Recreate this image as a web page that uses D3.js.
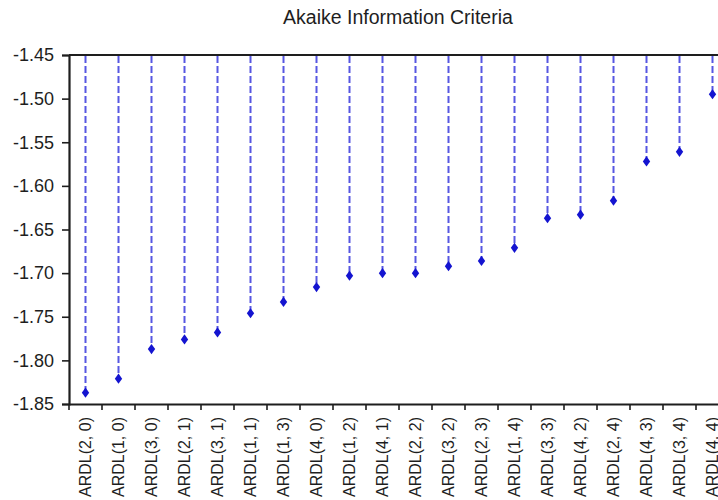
<!DOCTYPE html>
<html><head><meta charset="utf-8">
<script src="https://cdn.jsdelivr.net/npm/d3@7"></script>
<style>body{margin:0;background:#fff;} svg{display:block;font-family:"Liberation Sans",Arial,sans-serif;}</style>
</head><body>
<svg id="c" width="718" height="500"></svg>
<script>
const categories = ["ARDL(2, 0)","ARDL(1, 0)","ARDL(3, 0)","ARDL(2, 1)","ARDL(3, 1)","ARDL(1, 1)","ARDL(1, 3)","ARDL(4, 0)","ARDL(1, 2)","ARDL(4, 1)","ARDL(2, 2)","ARDL(3, 2)","ARDL(2, 3)","ARDL(1, 4)","ARDL(3, 3)","ARDL(4, 2)","ARDL(2, 4)","ARDL(4, 3)","ARDL(3, 4)","ARDL(4, 4)"];
const aicValues = [-1.837,-1.821,-1.787,-1.776,-1.768,-1.746,-1.733,-1.716,-1.703,-1.700,-1.700,-1.692,-1.686,-1.671,-1.637,-1.633,-1.617,-1.572,-1.561,-1.495];
const yTicks = [-1.45,-1.50,-1.55,-1.60,-1.65,-1.70,-1.75,-1.80,-1.85];
const title = "Akaike Information Criteria";

(function(){
const svg = d3.select("#c");
const mL = 69, mR = 729, mT = 55, mB = 404;
const x = d3.scaleBand().domain(categories).range([mL, mR]);
const y = d3.scaleLinear().domain([-1.85, -1.45]).range([mB, mT]);
const ink = "#1e1e1e";

svg.append("text").attr("x", (mL+mR)/2 - 1).attr("y", 23.5).attr("text-anchor","middle")
  .attr("font-size", 19.5).attr("fill",ink).text(title);

// stems
svg.append("g").selectAll("line").data(aicValues).join("line")
  .attr("x1",(d,i)=>x(categories[i])+x.bandwidth()/2)
  .attr("x2",(d,i)=>x(categories[i])+x.bandwidth()/2)
  .attr("y1", mT+1).attr("y2", d=>y(d))
  .attr("stroke","#5656e2").attr("stroke-width",2).attr("stroke-dasharray","7,3");

// markers
svg.append("g").selectAll("path").data(aicValues).join("path")
  .attr("d", d3.symbol().type(d3.symbolDiamond).size(30))
  .attr("transform",(d,i)=>`translate(${x(categories[i])+x.bandwidth()/2},${y(d)}) scale(1.25,1)`)
  .attr("fill","#1414d0");

// y axis
const ya = svg.append("g").attr("transform",`translate(${mL},0)`)
  .call(d3.axisLeft(y).tickValues(yTicks).tickFormat(d3.format(".2f")).tickSize(7).tickPadding(8));
ya.select(".domain").attr("stroke",ink).attr("stroke-width",2.2);
ya.selectAll(".tick line").attr("stroke",ink).attr("stroke-width",1.6);
ya.selectAll(".tick text").attr("font-size",18).attr("fill",ink)
  .attr("font-family","'Liberation Sans',Arial,sans-serif").text(d=>d3.format(".2f")(d).replace("−","-"));

// x axis
const xa = svg.append("g").attr("transform",`translate(0,${mB})`)
  .call(d3.axisBottom(x).tickSize(0).tickPadding(0));
xa.select(".domain").attr("stroke",ink).attr("stroke-width",2.2);
xa.selectAll(".tick text").attr("font-size",16).attr("fill",ink)
  .attr("font-family","'Liberation Sans',Arial,sans-serif")
  .attr("transform","rotate(-90)").attr("text-anchor","end")
  .attr("x",-13).attr("y",0).attr("dy","0.36em");
// boundary ticks
const bounds = categories.map(c=>x(c)).concat([mR]);
svg.append("g").selectAll("line").data(bounds).join("line")
  .attr("x1",d=>d).attr("x2",d=>d).attr("y1",mB).attr("y2",mB+6)
  .attr("stroke",ink).attr("stroke-width",1.6);

// top border
svg.append("line").attr("x1",mL).attr("x2",mR).attr("y1",mT).attr("y2",mT)
  .attr("stroke",ink).attr("stroke-width",2.2);
})();
</script>
</body></html>
